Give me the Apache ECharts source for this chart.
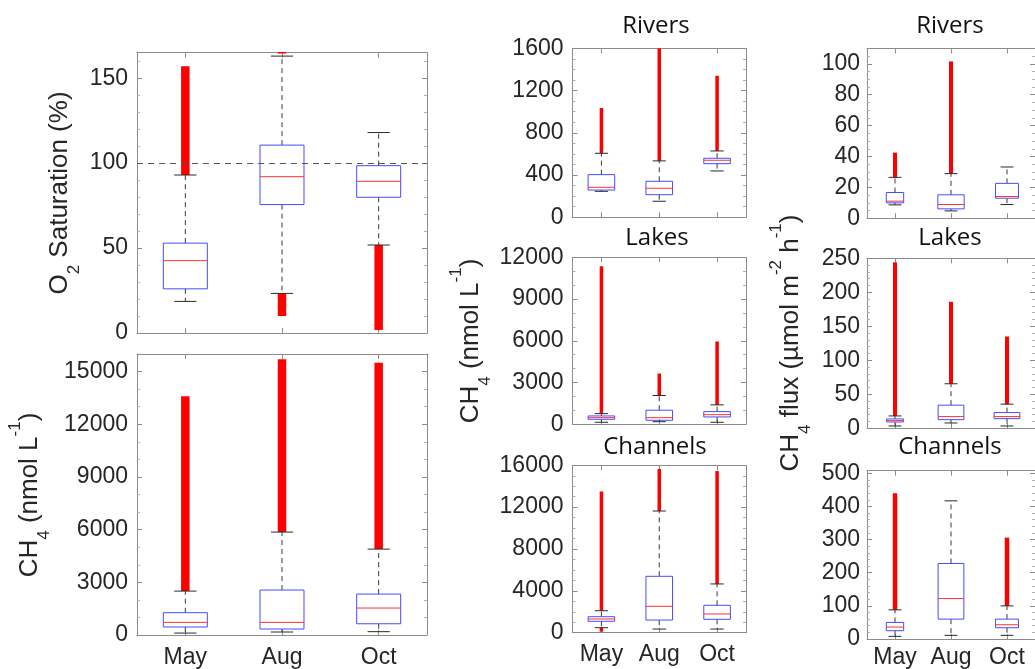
<!DOCTYPE html>
<html><head><meta charset="utf-8">
<script src="https://cdn.jsdelivr.net/npm/echarts@6/dist/echarts.min.js"></script>
<style>html,body{margin:0;padding:0;background:#fff}#c{width:1035px;height:669px}</style>
</head><body><div id="c"></div>
<script>
const months = ['May', 'Aug', 'Oct'];

// box statistics per month: [lower whisker, Q1, median, Q3, upper whisker]
// outliers: [month index, lowest outlier, highest outlier] (dense runs of red "+" marks)
const o2Stats = [[18.6, 26, 42.6, 52.9, 93], [23.3, 75.6, 92, 110.6, 163], [51.8, 79.9, 89.3, 98.5, 118]];
const o2Outliers = [[0, 93, 157], [1, 10, 23.3], [1, 164.6, 165.4], [2, 1.8, 51.8]];
const ch4Stats = [[110, 455, 718, 1270, 2500], [170, 340, 718, 2560, 5860], [190, 640, 1535, 2330, 4890]];
const ch4Outliers = [[0, 2500, 13600], [1, 5860, 15700], [2, 4890, 15500]];

const riverConcStats = [[246, 258, 284, 404, 606], [152, 214, 275, 341, 534], [439, 508, 540, 559, 628]];
const riverConcOutliers = [[0, 606, 1035], [1, 534, 1600], [2, 628, 1340]];
const lakeConcStats = [[145, 361, 477, 600, 766], [188, 289, 477, 1012, 2070], [145, 528, 694, 911, 1396]];
const lakeConcOutliers = [[0, 766, 11350], [1, 2070, 3650], [2, 1396, 5950]];
const chanConcStats = [[478, 1090, 1310, 1530, 2100], [350, 1210, 2520, 5390, 11630], [350, 1280, 1790, 2620, 4660]];
const chanConcOutliers = [[0, 2100, 13500], [0, 100, 478], [1, 11630, 15650], [2, 4660, 15450]];

const riverFluxStats = [[8.7, 10, 11.1, 16.7, 26.5], [4.8, 6.1, 8.9, 15.2, 28.9], [8.9, 13, 14.1, 22.6, 33.2]];
const riverFluxOutliers = [[0, 26.5, 42.5], [1, 28.9, 101.5]];
const lakeFluxStats = [[3.4, 9.3, 11.3, 13.8, 18.2], [7.8, 12.7, 17.2, 34, 65.5], [3.4, 14.2, 17.2, 23.1, 35.5]];
const lakeFluxOutliers = [[0, 18.2, 244], [1, 65.5, 186], [2, 35.5, 135]];
const chanFluxStats = [[8, 25, 36, 50, 88], [11, 60, 122, 228, 417], [11, 34, 43, 60, 100]];
const chanFluxOutliers = [[0, 88, 440], [2, 100, 306]];

const FRAME = '#8c8c8c';
const TXT = '#262626';
const FONT = '"Liberation Sans", Arial, sans-serif';

const panels = [
  {stats: o2Stats, out: o2Outliers, grid: {left: 137, top: 52.7, width: 290, height: 280.3}, max: 165, interval: 50, minor: 5, labels: false, bw: [0.455, 0.455, 0.455], ow: 8.5, lm: 9, ref: 100},
  {stats: ch4Stats, out: ch4Outliers, grid: {left: 137, top: 354, width: 290, height: 281.3}, max: 16000, interval: 3000, minor: 3, labels: true, bw: [0.455, 0.455, 0.455], ow: 8.5, lm: 9, xm: 11},
  {stats: riverConcStats, out: riverConcOutliers, grid: {left: 572.5, top: 48.3, width: 173.5, height: 169}, max: 1600, interval: 400, minor: 4, labels: false, bw: [0.46, 0.46, 0.46], ow: 3.5, lm: 9},
  {stats: lakeConcStats, out: lakeConcOutliers, grid: {left: 572.5, top: 257.3, width: 173.5, height: 167}, max: 12000, interval: 3000, minor: 3, labels: false, bw: [0.46, 0.46, 0.46], ow: 3.5, lm: 9},
  {stats: chanConcStats, out: chanConcOutliers, grid: {left: 572.5, top: 465.3, width: 173.5, height: 167.4}, max: 16000, interval: 4000, minor: 4, labels: true, bw: [0.46, 0.46, 0.46], ow: 3.5, lm: 9, xm: 10},
  {stats: riverFluxStats, out: riverFluxOutliers, grid: {left: 867, top: 48.3, width: 176, height: 170}, max: 110, interval: 20, minor: 4, labels: false, bw: [0.31, 0.47, 0.41], ow: 4, lm: 7},
  {stats: lakeFluxStats, out: lakeFluxOutliers, grid: {left: 867, top: 258.3, width: 176, height: 170}, max: 250, interval: 50, minor: 5, labels: false, bw: [0.3, 0.46, 0.46], ow: 4, lm: 7},
  {stats: chanFluxStats, out: chanFluxOutliers, grid: {left: 867, top: 470.7, width: 176, height: 168.6}, max: 508, interval: 100, minor: 5, labels: true, bw: [0.31, 0.46, 0.41], ow: 4.5, lm: 7, xm: 7}
];

const grids = [], xAxes = [], yAxes = [], series = [];
panels.forEach((p, g) => {
  grids.push(Object.assign({containLabel: false}, p.grid));
  const tick = {show: true, inside: true, length: 5, alignWithLabel: true, lineStyle: {color: FRAME, width: 1}};
  ['bottom', 'top'].forEach(pos => {
    xAxes.push({
      gridIndex: g, type: 'category', data: months, position: pos,
      axisLine: {show: true, onZero: false, lineStyle: {color: FRAME, width: 1}},
      axisTick: tick,
      axisLabel: {show: pos === 'bottom' && p.labels, interval: 0, hideOverlap: false, color: TXT, fontSize: 23, fontFamily: FONT, margin: p.xm || 8},
      splitLine: {show: false}
    });
  });
  const iv = p.interval;
  ['left', 'right'].forEach(pos => {
    yAxes.push({
      gridIndex: g, type: 'value', min: 0, max: p.max, interval: iv, position: pos,
      axisLine: {show: true, lineStyle: {color: FRAME, width: 1}},
      axisTick: {show: true, inside: true, length: 5, lineStyle: {color: FRAME}},
      minorTick: {show: true, splitNumber: p.minor, length: 3, lineStyle: {color: '#b0b0b0'}},
      axisLabel: {show: pos === 'left', color: TXT, fontSize: 23, fontFamily: FONT, margin: p.lm,
        formatter: v => (Math.abs(v / iv - Math.round(v / iv)) < 1e-6 ? String(v) : '')},
      splitLine: {show: false}
    });
  });
  const xi = g * 2, yi = g * 2;
  series.push({
    type: 'custom', xAxisIndex: xi, yAxisIndex: yi, silent: true,
    data: p.out,
    encode: {x: 0, y: [1, 2]},
    renderItem: (params, api) => {
      const i = api.value(0);
      const top = api.coord([i, api.value(2)]);
      const bot = api.coord([i, api.value(1)]);
      return {type: 'rect', shape: {x: top[0] - p.ow / 2, y: top[1], width: p.ow, height: Math.max(1.5, bot[1] - top[1])},
        style: {fill: '#ff0000'}};
    }
  });
  const boxSeries = {
    type: 'custom', xAxisIndex: xi, yAxisIndex: yi, silent: true,
    data: p.stats.map((s, i) => [i].concat(s)),
    encode: {x: 0, y: [1, 2, 3, 4, 5]},
    renderItem: (params, api) => {
      const i = api.value(0);
      const band = api.size([1, 0])[0];
      const bw = band * p.bw[i];
      const cw = band * 0.23;
      const x = api.coord([i, api.value(3)])[0];
      const Y = k => api.coord([i, api.value(k)])[1];
      const ymin = Y(1), yq1 = Y(2), ymed = Y(3), yq3 = Y(4), ymax = Y(5);
      const dash = {stroke: '#3a3a3a', lineWidth: 1, lineDash: [5, 4]};
      const solid = {stroke: '#2a2a2a', lineWidth: 1};
      return {type: 'group', children: [
        {type: 'line', shape: {x1: x, y1: yq3, x2: x, y2: ymax}, style: dash},
        {type: 'line', shape: {x1: x, y1: yq1, x2: x, y2: ymin}, style: dash},
        {type: 'line', shape: {x1: x - cw / 2, y1: ymax, x2: x + cw / 2, y2: ymax}, style: solid},
        {type: 'line', shape: {x1: x - cw / 2, y1: ymin, x2: x + cw / 2, y2: ymin}, style: solid},
        {type: 'rect', shape: {x: x - bw / 2, y: yq3, width: bw, height: yq1 - yq3}, style: {fill: 'none', stroke: '#4a4aff', lineWidth: 1}},
        {type: 'line', shape: {x1: x - bw / 2, y1: ymed, x2: x + bw / 2, y2: ymed}, style: {stroke: '#ff3030', lineWidth: 1}}
      ]};
    }
  };
  if (p.ref !== undefined) {
    boxSeries.markLine = {silent: true, symbol: 'none', label: {show: false},
      lineStyle: {type: [6, 5], color: '#555', width: 1}, data: [{yAxis: p.ref}]};
  }
  series.push(boxSeries);
});

const base = {fontSize: 26, fontFamily: FONT, lineHeight: 46, verticalAlign: 'middle', fill: TXT};
const small = {fontSize: 17, fontFamily: FONT, lineHeight: 17, fill: TXT};
const rich = {m: base, sub: Object.assign({}, small, {verticalAlign: 'bottom'}), sup: Object.assign({}, small, {verticalAlign: 'top'})};
function vlabel(text, x, y) {
  return {type: 'text', x: x, y: y, rotation: Math.PI / 2, silent: true,
    style: {text: text, rich: rich, align: 'center', verticalAlign: 'middle', fill: TXT, fontSize: 26, fontFamily: FONT}};
}
function title(text, x, y) {
  return {type: 'text', x: x, y: y, silent: true,
    style: {text: text, fontSize: 24, fontFamily: '"Open Sans", sans-serif', fill: '#111', align: 'center', verticalAlign: 'middle'}};
}
const graphics = [
  vlabel('{m|O}{sub|2}{m| Saturation (%)}', 60, 193),
  vlabel('{m|CH}{sub|4}{m| (nmol L}{sup|-1}{m|)}', 30, 495),
  vlabel('{m|CH}{sub|4}{m| (nmol L}{sup|-1}{m|)}', 471, 341),
  vlabel('{m|CH}{sub|4}{m| flux (µmol m}{sup|-2}{m| h}{sup|-1}{m|)}', 791, 343),
  title('Rivers', 656, 26), title('Lakes', 657, 238), title('Channels', 655, 447),
  title('Rivers', 950, 26), title('Lakes', 950, 238), title('Channels', 950, 447)
];

const chart = echarts.init(document.getElementById('c'), null, {renderer: 'canvas'});
chart.setOption({
  animation: false,
  backgroundColor: '#ffffff',
  grid: grids, xAxis: xAxes, yAxis: yAxes, series: series,
  graphic: {elements: graphics}
});
</script></body></html>
